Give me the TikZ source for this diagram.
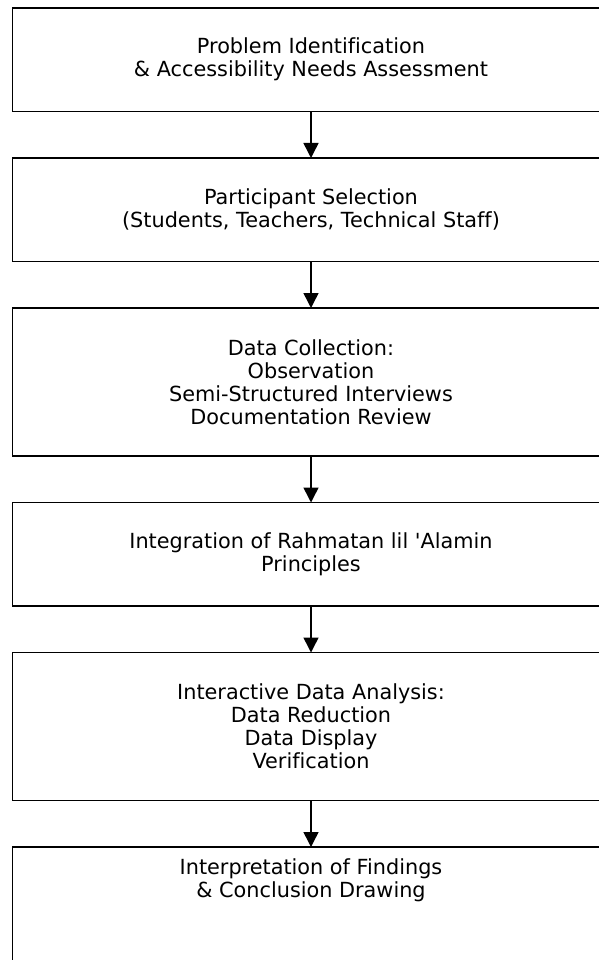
\documentclass[tikz,border=0pt]{standalone}
\usepackage{fontspec}
\setmainfont{DejaVu Sans}[Ligatures={NoCommon}]
\usetikzlibrary{positioning,arrows.meta}

\begin{document}
\begin{tikzpicture}[x=1pt, y=1pt, node distance=46.5pt,
    font=\fontsize{20.8}{23}\selectfont, align=center,
    stepbox/.style={draw, rectangle, line width=1.8pt, outer sep=0pt,
        minimum width=597pt, minimum height=103.5pt},
    tallbox/.style={stepbox, minimum height=148pt},
    flow/.style={-{Triangle[length=15pt,width=15pt]}, line width=1.5pt}]
    \useasboundingbox (0,0) rectangle (598,-960);

    \node[stepbox] (problem) at (311,-59.75) {Problem Identification\\ \& Accessibility Needs Assessment};
    \node[stepbox, below=of problem] (participants) {Participant Selection\\ (Students, Teachers, Technical Staff)};
    \node[tallbox, below=of participants] (collection) {Data Collection:\\ Observation\\ Semi-Structured Interviews\\ Documentation Review};
    \node[stepbox, below=of collection] (principles) {Integration of Rahmatan lil \textquotesingle Alamin\\ Principles};
    \node[tallbox, below=of principles] (analysis) {Interactive Data Analysis:\\ Data Reduction\\ Data Display\\ Verification};
    \node[stepbox, minimum height=160pt, below=of analysis] (findings) {};
    \node (findingstext) at ([yshift=-33pt]findings.north) {Interpretation of Findings\\ \& Conclusion Drawing};

    \draw[flow] (problem) -- (participants);
    \draw[flow] (participants) -- (collection);
    \draw[flow] (collection) -- (principles);
    \draw[flow] (principles) -- (analysis);
    \draw[flow] (analysis) -- (findings);
\end{tikzpicture}
\end{document}
